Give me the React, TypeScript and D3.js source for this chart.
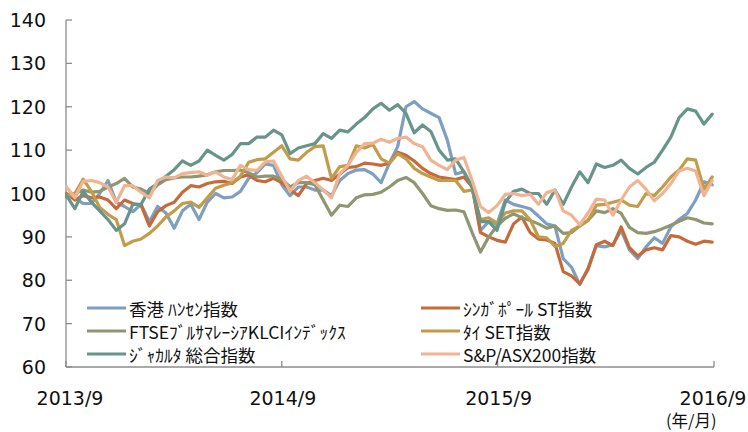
import React from "react";
import * as d3 from "d3";

// Biweekly observation dates (2013/9 – 2016/8)
const START = new Date(2013, 8, 2);
const N = 79;
const dates: Date[] = Array.from({ length: N }, (_, i) => d3.timeDay.offset(START, i * 14));

const hangSeng = [
  99.6, 99, 97.7, 97.7, 100, 103, 98, 97, 95.8, 97.5,
  93.5, 97, 95.5, 92, 96, 97.5, 94, 98, 100, 99,
  99.2, 100.5, 103.5, 104.8, 106.8, 106.5, 102, 99.5, 101.5, 101.5,
  100.8, 100.8, 99.5, 103, 104.6, 105.4, 105.5, 104.5, 102.5, 107,
  110.8, 120, 121.2, 119.5, 118.5, 117.5, 112.3, 104.5, 105, 101.5,
  91.5, 93.5, 93, 98.5, 97.5, 97, 96.5, 94.8, 93, 92.5,
  85, 83, 79, 82.8, 88, 87.7, 88.2, 91.5, 87, 85,
  87.7, 89.8, 88.5, 92.3, 94, 95.4, 98.5, 102.7, 102,
];
const singapore = [
  100, 98.5, 99.5, 99, 99.2, 98.5, 96.5, 98.5, 97.7, 97.3,
  92.5, 95.8, 97.2, 98, 100.3, 101.8, 101.5, 102.3, 102.7, 102.8,
  102.3, 103.8, 104.3, 103, 102.7, 103.5, 102.5, 100.8, 99.5, 102.3,
  103, 103.5, 103, 104.5, 106, 106.2, 107, 106.8, 106.5, 107,
  109.5, 108.8, 107.5, 105.8, 104.6, 103.8, 103.5, 103.2, 103.8, 101.5,
  91, 90, 89.2, 88.8, 93, 94.6, 91, 89.5, 89.3, 88.5,
  82, 81, 79.2, 82.5, 88.2, 89, 88, 92.3, 87.5, 85.6,
  87, 87.5, 87, 90.3, 90, 89, 88.3, 89, 88.8,
];
const klci = [
  99.2, 100, 100.8, 100.3, 100.5, 101.5, 102.3, 103.5, 101.5, 101,
  100, 102, 103.2, 103.6, 103.8, 103.8, 104, 104.3, 105, 105.3,
  105.3, 105.4, 104.8, 103.8, 104, 104, 103.3, 101.5, 102.5, 102.5,
  102, 98.5, 95, 97.3, 97, 99, 99.7, 99.8, 100.3, 101.5,
  103, 103.7, 102.5, 100, 97.2, 96.5, 96.1, 96.2, 95.8, 91,
  86.5, 90, 92.5, 94.3, 95.3, 94.4, 93.8, 93, 92, 92.5,
  90.8, 91, 92.5, 93.8, 96, 95.6, 96.5, 95.4, 92.2, 91,
  90.8, 91.2, 91.9, 92.7, 93.6, 94.4, 94, 93.2, 93,
];
const thaiSet = [
  99.6, 100, 103.3, 100.5, 96.8, 95.2, 94, 88, 89, 89.5,
  90.8, 92.5, 94.6, 96, 97.7, 98, 96.8, 99, 101.2, 101.9,
  102.5, 104, 107.2, 107.8, 108, 109.5, 111, 108, 107.7, 109.5,
  110.8, 111, 103.5, 106.2, 106.5, 111, 110.5, 111.3, 108, 107,
  109.2, 108, 105.8, 104.6, 103.8, 103, 103, 103, 100.5, 100.8,
  94, 94.4, 93.2, 95.5, 96, 96, 94, 90, 89.8, 87.8,
  88.5, 91.5, 92.5, 93.8, 97.3, 97.5, 98, 98.5, 97.3, 97,
  100, 99.5, 101.5, 103.8, 105.4, 108, 107.7, 101, 103.8,
];
const jakarta = [
  99.5, 96.5, 100.5, 98, 96, 94, 91.5, 93, 97.5, 97.5,
  101, 102.3, 104, 105.5, 107.5, 106.5, 107.5, 110, 108.8, 107.7,
  109, 111.5, 111.5, 113, 113, 114.6, 113.5, 109.2, 110.5, 111,
  111.5, 113.8, 112.7, 114.6, 114.2, 116, 117.5, 119.5, 120.8, 119.2,
  120.5, 118.5, 114, 115.8, 114.3, 110, 107.7, 108, 105, 101.5,
  93.5, 93.5, 91.5, 98, 100.5, 101, 100, 100, 97.5, 100.8,
  97.5, 101.5, 105, 102.5, 106.8, 106, 106.5, 107.7, 105.8, 104.5,
  106, 107.2, 110, 113, 117.5, 119.5, 119, 116, 118.3,
];
const asx200 = [
  101.5, 99, 102.8, 103, 102.5, 101.5, 98, 101.8, 101.8, 100.3,
  99, 103, 103.8, 103.6, 104.6, 104.8, 105, 104.2, 105, 103.8,
  103.2, 106.5, 105.5, 105.3, 107.3, 107.5, 104, 100.5, 103, 104,
  102.5, 100.8, 99, 104.6, 106.5, 109.5, 111.5, 111.6, 112.5, 111.8,
  112.7, 113, 111.5, 110.8, 107.7, 106.5, 105.5, 107.7, 108.3, 103,
  97, 95.6, 97.2, 99.8, 100, 99.5, 99.8, 97.5, 100.2, 100.8,
  96, 95, 92.8, 95.5, 98.7, 98.5, 95, 98.5, 101.5, 103,
  101, 98.3, 100, 102.3, 105.2, 105.8, 105.2, 99.5, 103,
];

const seriesNames = [
  "香港 ﾊﾝｾﾝ指数",
  "ｼﾝｶﾞﾎﾟｰﾙ ST指数",
  "FTSEﾌﾞﾙｻﾏﾚｰｼｱKLCIｲﾝﾃﾞｯｸｽ",
  "ﾀｲ SET指数",
  "ｼﾞｬｶﾙﾀ 総合指数",
  "S&P/ASX200指数",
];
const seriesValues = [hangSeng, singapore, klci, thaiSet, jakarta, asx200];
const seriesColors = ["#7d9fc0", "#c66a3a", "#8f9672", "#c29c48", "#67958a", "#f1b493"];

const yTicks = [60, 70, 80, 90, 100, 110, 120, 130, 140];
const xTickDates = [new Date(2013, 8, 1), new Date(2014, 8, 1), new Date(2015, 8, 1), new Date(2016, 8, 1)];
const xTickLabels = ["2013/9", "2014/9", "2015/9", "2016/9"];
const xUnitLabel = "(年/月)";

export default function App() {
  const W = 748;
  const H = 432;
  const left = 66;
  const right = 714;
  const top = 20;
  const bottom = 367;

  const x = d3.scaleTime().domain([xTickDates[0], xTickDates[3]]).range([left, right]);
  const y = d3.scaleLinear().domain([60, 140]).range([bottom, top]);

  const line = d3
    .line<number>()
    .x((_, i) => x(dates[i]))
    .y((v) => y(v));

  const axisColor = "#8c8c8c";
  const tickFont = "'DejaVu Sans', Verdana, sans-serif";
  const cjkFont = "'Noto Sans CJK JP', 'DejaVu Sans', sans-serif";

  // legend layout (row-major, two columns)
  const legCols = [87, 421];
  const legRows = [308, 331, 354];

  return (
    <svg
      width={W}
      height={H}
      viewBox={`0 0 ${W} ${H}`}
      style={{ position: "absolute", left: 0, top: 0, background: "#fff" }}
    >
      {/* y axis */}
      <line x1={left} x2={left} y1={top} y2={bottom} stroke={axisColor} strokeWidth={1.3} />
      {yTicks.map((t) => (
        <g key={t}>
          <line x1={left} x2={left + 6} y1={y(t)} y2={y(t)} stroke={axisColor} strokeWidth={1.3} />
          <text
            x={46}
            y={y(t)}
            textAnchor="end"
            dominantBaseline="central"
            fontFamily={tickFont}
            fontSize={19}
            fill="#111"
          >
            {t}
          </text>
        </g>
      ))}
      {/* x axis */}
      <line x1={left} x2={right} y1={bottom} y2={bottom} stroke={axisColor} strokeWidth={1.3} />
      {xTickDates.map((d, i) => (
        <g key={i}>
          <line x1={x(d)} x2={x(d)} y1={bottom} y2={bottom - 6} stroke={axisColor} strokeWidth={1.3} />
          <text
            x={x(d) + (i === 0 ? 4 : i === 3 ? -1 : 1)}
            y={404.5}
            textAnchor="middle"
            fontFamily={tickFont}
            fontSize={19}
            fill="#111"
          >
            {xTickLabels[i]}
          </text>
        </g>
      ))}
      <text x={666} y={427} fontFamily={cjkFont} fontSize={16.5} fill="#111">
        {xUnitLabel}
      </text>

      {/* series */}
      {seriesValues.map((vals, k) => (
        <path
          key={k}
          d={line(vals) || ""}
          fill="none"
          stroke={seriesColors[k]}
          strokeWidth={3.2}
          strokeLinejoin="round"
          strokeLinecap="round"
        />
      ))}

      {/* legend */}
      {seriesNames.map((name, k) => {
        const col = k % 2;
        const row = Math.floor(k / 2);
        const lx = legCols[col];
        const ly = legRows[row];
        return (
          <g key={name}>
            <line x1={lx} x2={lx + 39} y1={ly} y2={ly} stroke={seriesColors[k]} strokeWidth={3} />
            <text
              x={lx + 42}
              y={ly}
              dominantBaseline="central"
              fontFamily={cjkFont}
              fontSize={17.5}
              fill="#111"
            >
              {name}
            </text>
          </g>
        );
      })}
    </svg>
  );
}
